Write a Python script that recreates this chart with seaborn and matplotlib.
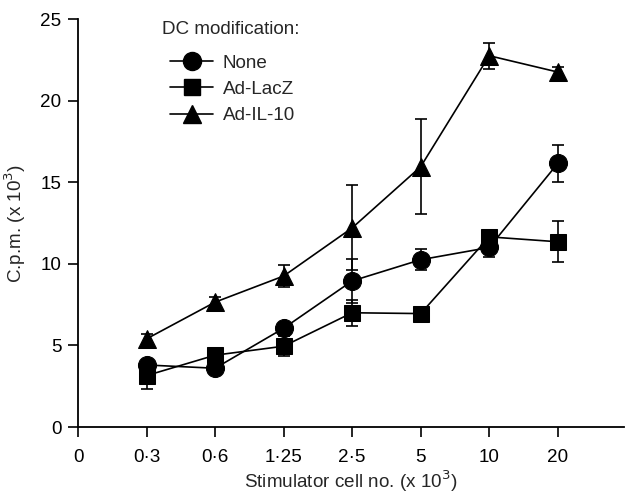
import matplotlib
matplotlib.use("Agg")
import matplotlib.pyplot as plt
import seaborn as sns
import pandas as pd
import numpy as np

# Data
x_labels = ["0", "0·3", "0·6", "1·25", "2·5", "5", "10", "20"]
stim = ["0·3", "0·6", "1·25", "2·5", "5", "10", "20"]
none_vals = [3.8, 3.6, 6.05, 8.95, 10.25, 11.0, 16.15]
none_err = [0.3, 0.2, 0.3, 1.35, 0.65, 0.6, 1.15]
lacz_vals = [3.15, 4.4, 4.95, 7.0, 6.95, 11.65, 11.35]
lacz_err = [0.8, 0.3, 0.6, 0.8, 0.3, 0.3, 1.25]
il10_vals = [5.4, 7.65, 9.25, 12.2, 15.95, 22.75, 21.75]
il10_err = [0.3, 0.3, 0.7, 2.6, 2.9, 0.8, 0.3]
series_names = ["None", "Ad-LacZ", "Ad-IL-10"]
y_ticks = [0, 5, 10, 15, 20, 25]

sns.set_theme(style="ticks")
plt.rcParams['font.family'] = ['Liberation Sans', 'DejaVu Sans']
FS = 13.6

W, H = 625, 495
fig = plt.figure(figsize=(W / 100, H / 100), dpi=100)
ax = fig.add_axes([78 / W, 1 - 427 / H, 0.874, (427 - 19) / H])

pos = list(range(1, len(stim) + 1))
rows = []
for name, vals, errs in zip(series_names, [none_vals, lacz_vals, il10_vals],
                            [none_err, lacz_err, il10_err]):
    for p, v, e in zip(pos, vals, errs):
        rows.append({"pos": p, "val": v, "err": e, "group": name})
df = pd.DataFrame(rows)

markers = {"None": "o", "Ad-LacZ": "s", "Ad-IL-10": "^"}
msizes = {"None": 13, "Ad-LacZ": 12, "Ad-IL-10": 13}
handles = []
for name in series_names:
    sub = df[df.group == name]
    ax.errorbar(sub.pos, sub.val, yerr=sub.err, fmt='none', ecolor='black',
                elinewidth=1.2, capsize=4, capthick=1.2, zorder=2)
    sns.lineplot(data=sub, x="pos", y="val", ax=ax, color="black",
                 marker=markers[name], markersize=msizes[name],
                 markeredgecolor="black", markerfacecolor="black",
                 linewidth=1.2, zorder=3, label=name, legend=False)
    handles.append(plt.Line2D([], [], color="black", marker=markers[name],
                              markersize=msizes[name], linewidth=1.2,
                              markerfacecolor="black", markeredgecolor="black"))

ax.set_xlim(0, 7.97)
ax.set_ylim(0, 25)
ax.set_xticks(range(len(x_labels)))
ax.set_xticklabels(x_labels)
ax.set_yticks(y_ticks)
ax.tick_params(axis='both', direction='out', length=7, width=1.2,
               labelsize=FS, colors='black', pad=5)
ax.tick_params(axis='x', pad=8.5)
for s in ["top", "right"]:
    ax.spines[s].set_visible(False)
for s in ["left", "bottom"]:
    ax.spines[s].set_linewidth(1.3)
    ax.spines[s].set_color("black")

ax.set_xlabel("Stimulator cell no. (x 10$^3$)", fontsize=FS, labelpad=2.5)
ax.set_ylabel("C.p.m. (x 10$^3$)", fontsize=FS, labelpad=9)

fig.text(162 / W, 1 - 30 / H, "DC modification:", fontsize=FS,
         ha="left", va="center")
leg = fig.legend(handles, series_names, loc="upper left",
                 bbox_to_anchor=(170 / W, 1 - 54.5 / H),
                 frameon=False, fontsize=FS, handlelength=2.3,
                 handletextpad=0.5, labelspacing=0.48, borderpad=0,
                 borderaxespad=0)

fig.savefig("out.png", dpi=100)
